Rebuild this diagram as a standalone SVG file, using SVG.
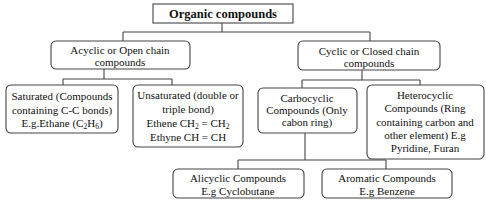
<svg xmlns="http://www.w3.org/2000/svg" width="486" height="206" viewBox="0 0 486 206">
<style>
.box{fill:#fff;stroke:#444;stroke-width:1.1}
.c{fill:none;stroke:#444;stroke-width:1.1}
text{font-family:"Liberation Serif","Times New Roman",serif;font-size:11px;fill:#111;text-anchor:middle}
.b{font-weight:bold;font-size:12.5px}
.s{font-size:7.5px}
</style>
<rect width="486" height="206" fill="#fff"/>
<g id="connectors">
<path class="c" d="M222 23V32M123 32H370M123 32V41M370 32V41"/>
<path class="c" d="M104 69V79M63 79H172M63 79V85M172 79V85"/>
<path class="c" d="M362 70V80M302 80H420M302 80V88M420 80V85"/>
<path class="c" d="M305 133V160M238 160H386M238 160V169M386 160V169"/>
</g>
<g id="organic">
<rect class="box" x="153" y="4" width="140" height="19"/>
<text class="b" x="223" y="18">Organic compounds</text>
</g>
<g id="acyclic">
<rect class="box" x="51" y="41" width="139" height="28" rx="5"/>
<text x="120" y="54">Acyclic or Open chain</text>
<text x="120" y="66">compounds</text>
</g>
<g id="cyclic">
<rect class="box" x="298" y="41" width="142" height="29" rx="5"/>
<text x="369" y="55">Cyclic or Closed chain</text>
<text x="369" y="67">compounds</text>
</g>
<g id="saturated">
<rect class="box" x="6" y="85" width="112" height="48" rx="5"/>
<text x="62" y="100">Saturated (Compounds</text>
<text x="62" y="114">containing C-C bonds)</text>
<text x="62" y="127">E.g.Ethane (C<tspan class="s" dy="2">2</tspan><tspan dy="-2">H</tspan><tspan class="s" dy="2">6</tspan><tspan dy="-2">)</tspan></text>
</g>
<g id="unsaturated">
<rect class="box" x="133" y="85" width="110" height="62" rx="5"/>
<text x="188" y="99">Unsaturated (double or</text>
<text x="188" y="113">triple bond)</text>
<text x="188" y="127">Ethene CH<tspan class="s" dy="2">2</tspan><tspan dy="-2"> = CH</tspan><tspan class="s" dy="2">2</tspan></text>
<text x="188" y="141">Ethyne CH = CH</text>
</g>
<g id="carbocyclic">
<rect class="box" x="258" y="88" width="99" height="45" rx="5"/>
<text x="307" y="102">Carbocyclic</text>
<text x="307" y="114">Compounds (Only</text>
<text x="307" y="126">cabon ring)</text>
</g>
<g id="heterocyclic">
<rect class="box" x="367" y="85" width="117" height="74" rx="5"/>
<text x="425" y="99">Heterocyclic</text>
<text x="425" y="112">Compounds (Ring</text>
<text x="425" y="126">containing carbon and</text>
<text x="425" y="139">other element) E.g</text>
<text x="425" y="152">Pyridine, Furan</text>
</g>
<g id="alicyclic">
<rect class="box" x="173" y="169" width="131" height="29" rx="5"/>
<text x="238" y="182">Alicyclic Compounds</text>
<text x="238" y="195">E.g Cyclobutane</text>
</g>
<g id="aromatic">
<rect class="box" x="322" y="169" width="130" height="29" rx="5"/>
<text x="387" y="182">Aromatic Compounds</text>
<text x="387" y="195">E.g Benzene</text>
</g>
</svg>
